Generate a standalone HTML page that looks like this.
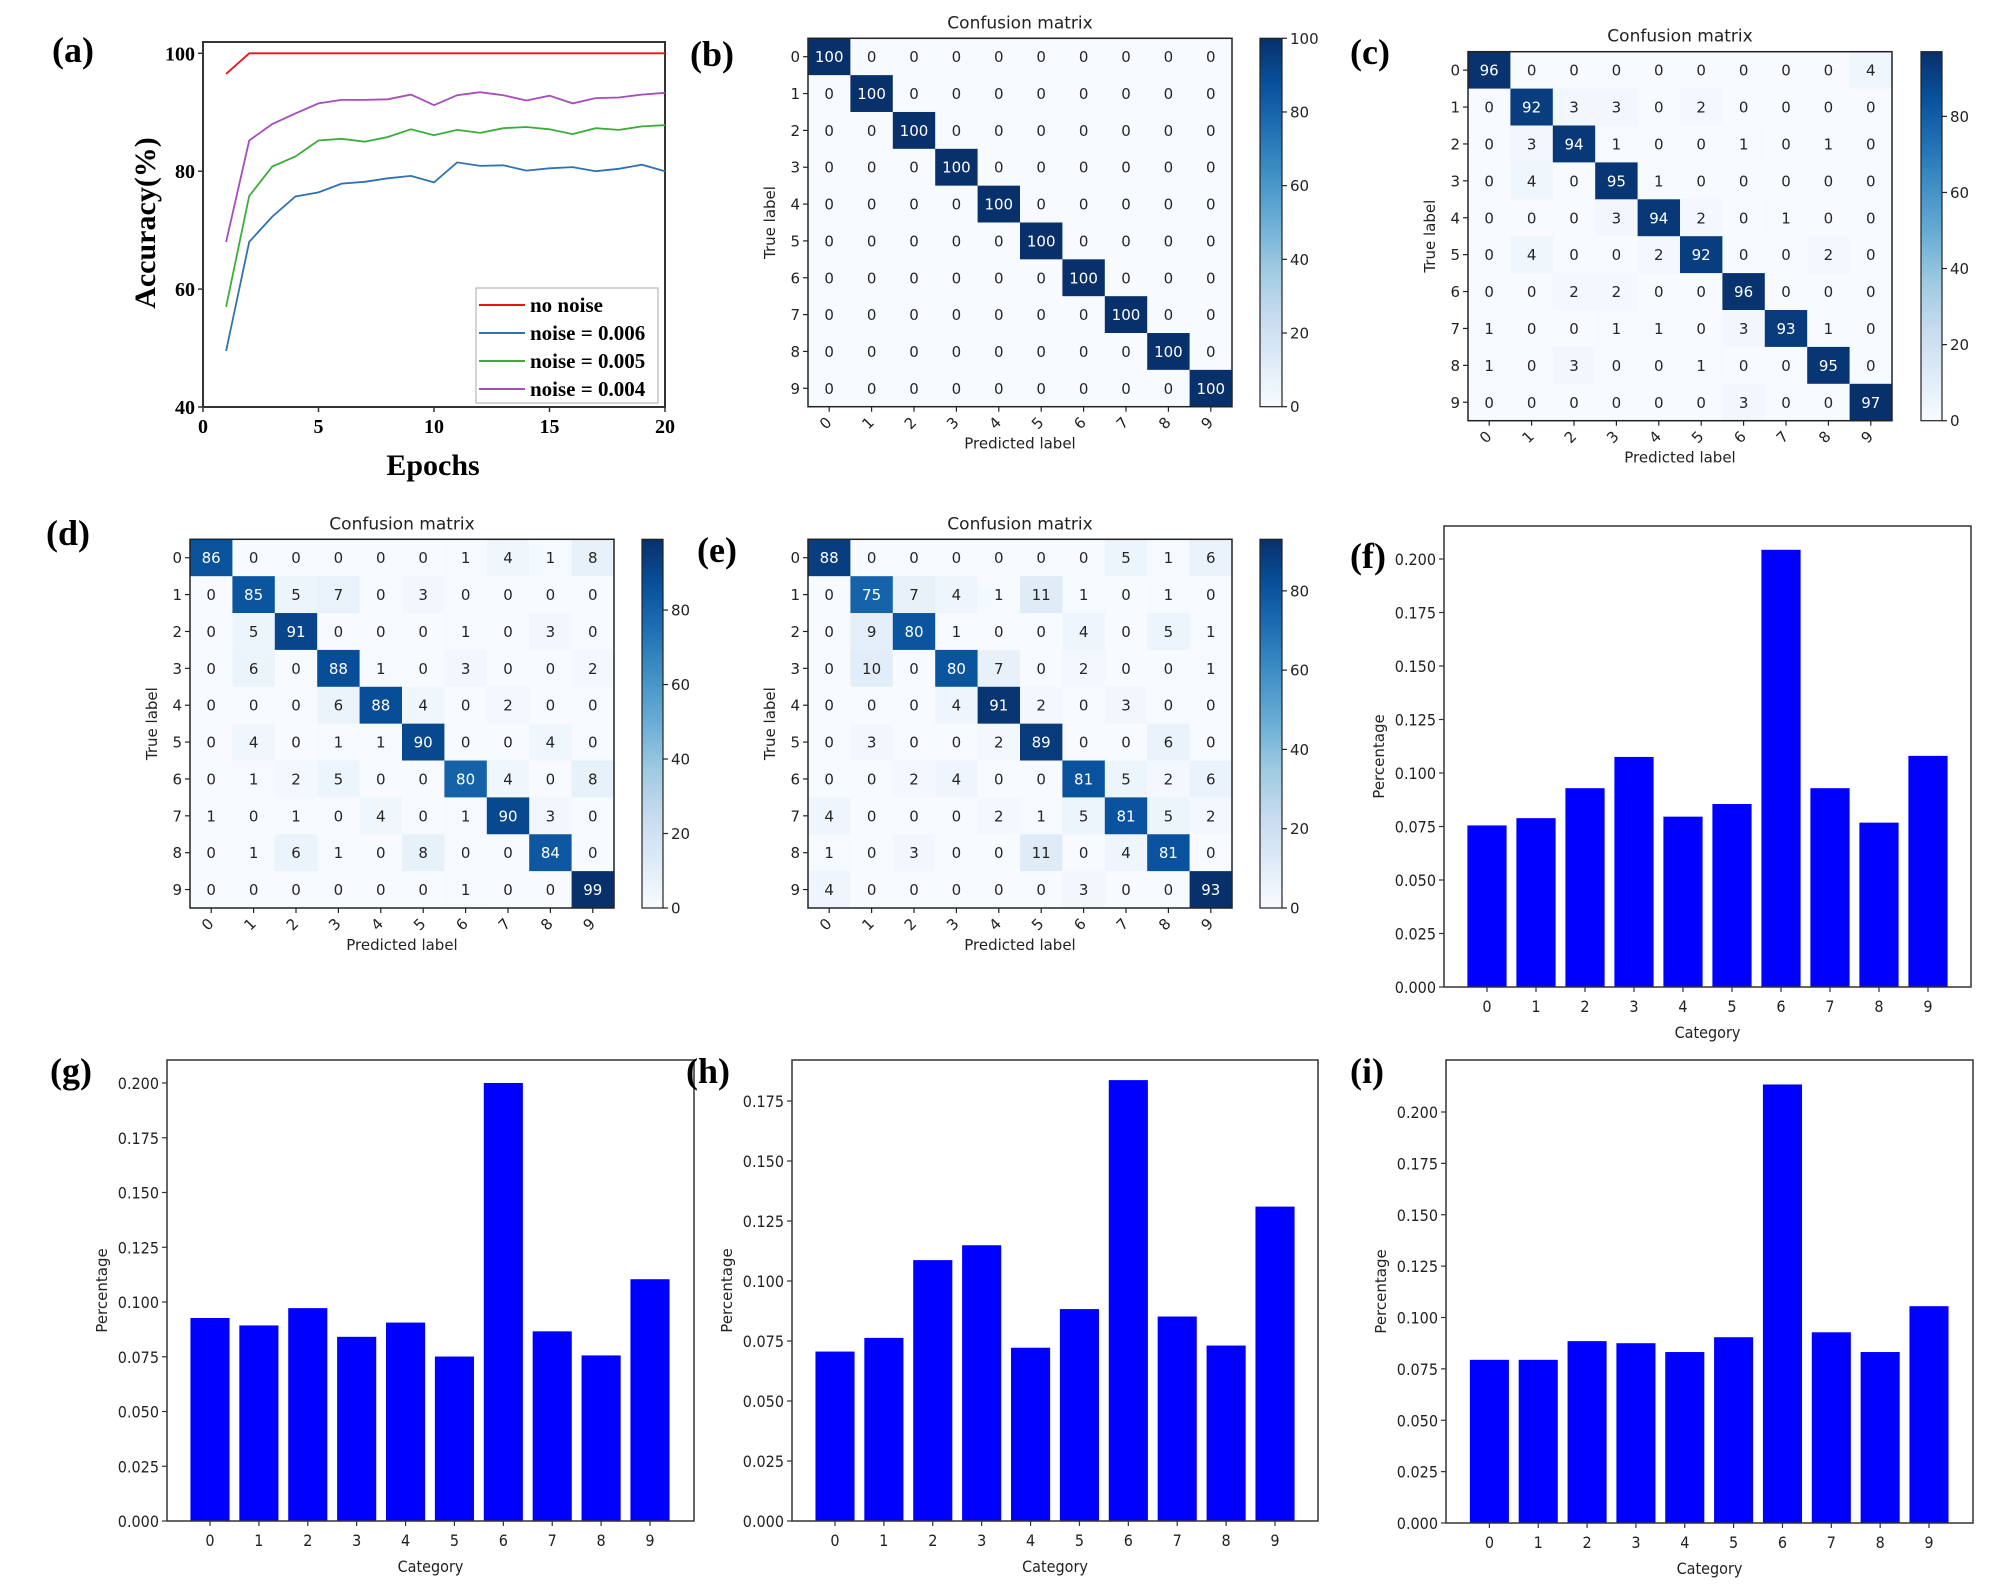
<!DOCTYPE html>
<html><head><meta charset="utf-8"><style>
html,body{margin:0;padding:0;background:#fff;}
svg{display:block;}
</style></head>
<body>
<svg id="fig" width="2000" height="1591" viewBox="0 0 2000 1591" xmlns="http://www.w3.org/2000/svg">
<defs>
<linearGradient id="blues" x1="0" y1="1" x2="0" y2="0">
<stop offset="0" stop-color="#f7fbff"/><stop offset="0.125" stop-color="#deebf7"/><stop offset="0.25" stop-color="#c6dbef"/><stop offset="0.375" stop-color="#9ecae1"/><stop offset="0.5" stop-color="#6baed6"/><stop offset="0.625" stop-color="#4292c6"/><stop offset="0.75" stop-color="#2171b5"/><stop offset="0.875" stop-color="#08519c"/><stop offset="1" stop-color="#08306b"/>
</linearGradient>
</defs>
</svg>
<script>
// ---------- data: panel (a) ----------
const epochs = [1,2,3,4,5,6,7,8,9,10,11,12,13,14,15,16,17,18,19,20];
const accNoNoise = [96.5,100,100,100,100,100,100,100,100,100,100,100,100,100,100,100,100,100,100,100];
const acc006 = [49.5,68,72.3,75.7,76.4,77.9,78.2,78.8,79.2,78.1,81.5,80.9,81,80.1,80.5,80.7,80,80.4,81.1,80];
const acc005 = [57,75.8,80.8,82.5,85.2,85.5,85,85.8,87.1,86.1,87,86.5,87.3,87.5,87.1,86.3,87.3,87,87.6,87.8];
const acc004 = [68,85.2,88,89.8,91.5,92.1,92.1,92.2,93,91.2,92.9,93.4,92.9,92,92.8,91.5,92.4,92.5,93,93.3];
const accXTicks = [0,5,10,15,20];
const accYTicks = [40,60,80,100];
const legendLabels = ["no noise","noise = 0.006","noise = 0.005","noise = 0.004"];
// ---------- data: confusion matrices ----------
const cmB = [
[100,0,0,0,0,0,0,0,0,0],[0,100,0,0,0,0,0,0,0,0],[0,0,100,0,0,0,0,0,0,0],[0,0,0,100,0,0,0,0,0,0],[0,0,0,0,100,0,0,0,0,0],
[0,0,0,0,0,100,0,0,0,0],[0,0,0,0,0,0,100,0,0,0],[0,0,0,0,0,0,0,100,0,0],[0,0,0,0,0,0,0,0,100,0],[0,0,0,0,0,0,0,0,0,100]];
const cmC = [
[96,0,0,0,0,0,0,0,0,4],[0,92,3,3,0,2,0,0,0,0],[0,3,94,1,0,0,1,0,1,0],[0,4,0,95,1,0,0,0,0,0],[0,0,0,3,94,2,0,1,0,0],
[0,4,0,0,2,92,0,0,2,0],[0,0,2,2,0,0,96,0,0,0],[1,0,0,1,1,0,3,93,1,0],[1,0,3,0,0,1,0,0,95,0],[0,0,0,0,0,0,3,0,0,97]];
const cmD = [
[86,0,0,0,0,0,1,4,1,8],[0,85,5,7,0,3,0,0,0,0],[0,5,91,0,0,0,1,0,3,0],[0,6,0,88,1,0,3,0,0,2],[0,0,0,6,88,4,0,2,0,0],
[0,4,0,1,1,90,0,0,4,0],[0,1,2,5,0,0,80,4,0,8],[1,0,1,0,4,0,1,90,3,0],[0,1,6,1,0,8,0,0,84,0],[0,0,0,0,0,0,1,0,0,99]];
const cmE = [
[88,0,0,0,0,0,0,5,1,6],[0,75,7,4,1,11,1,0,1,0],[0,9,80,1,0,0,4,0,5,1],[0,10,0,80,7,0,2,0,0,1],[0,0,0,4,91,2,0,3,0,0],
[0,3,0,0,2,89,0,0,6,0],[0,0,2,4,0,0,81,5,2,6],[4,0,0,0,2,1,5,81,5,2],[1,0,3,0,0,11,0,4,81,0],[4,0,0,0,0,0,3,0,0,93]];
const cmLabels = ["0","1","2","3","4","5","6","7","8","9"];
const cbTicksB = [0,20,40,60,80,100];
const cbTicksOther = [0,20,40,60,80];
// ---------- data: bar charts ----------
const categories = ["0","1","2","3","4","5","6","7","8","9"];
const barF = [0.0755,0.0789,0.0929,0.1075,0.0796,0.0855,0.2043,0.0929,0.0768,0.108];
const barG = [0.0927,0.0893,0.0972,0.0841,0.0906,0.0751,0.2,0.0866,0.0756,0.1104];
const barH = [0.0706,0.0763,0.1087,0.1149,0.0722,0.0883,0.1837,0.0852,0.0731,0.131];
const barI = [0.0794,0.0794,0.0885,0.0875,0.0832,0.0904,0.2134,0.0928,0.0832,0.1055];
const barTicks200 = [0,0.025,0.05,0.075,0.1,0.125,0.15,0.175,0.2];
const barTicks175 = [0,0.025,0.05,0.075,0.1,0.125,0.15,0.175];

const NS = 'http://www.w3.org/2000/svg';
const svg = document.getElementById('fig');
function el(tag, attrs, parent){ const e=document.createElementNS(NS,tag); for(const k in attrs) e.setAttribute(k,attrs[k]); (parent||svg).appendChild(e); return e; }
function tx(str, attrs, parent){ const t=el('text',attrs,parent); t.textContent=str; return t; }
const SERIF='"Liberation Serif", serif';
const DJ='"DejaVu Sans", "Liberation Sans", sans-serif';
const DJC='"DejaVu Sans Condensed", "DejaVu Sans", sans-serif';

function panelLabel(str, x, y){
  const t=tx(str,{x:x,y:y,'font-family':SERIF,'font-weight':'bold','font-size':36,fill:'#000'});
  
  
}

// ---------- panel (a) ----------
(function(){
  const L=203,R=665,T=42,B=407;
  const g=el('g',{});
  
  
  const xs=v=>L+v/20*(R-L);
  const ys=v=>B-(v-40)*(B-53.3)/60;
  const frame=el('rect',{x:L,y:T,width:R-L,height:B-T,fill:'none',stroke:'#333',"stroke-width":2},g);
  
  
  accXTicks.forEach(v=>{
    const tk=el('line',{x1:xs(v),x2:xs(v),y1:B,y2:B+5,stroke:'#333','stroke-width':1.5},g);
    
    
    const lb=tx(String(v),{x:xs(v),y:B+26,'text-anchor':'middle','font-family':SERIF,'font-weight':'bold','font-size':20},g);
    
    
  });
  accYTicks.forEach(v=>{
    const tk=el('line',{x1:L-5,x2:L,y1:ys(v),y2:ys(v),stroke:'#333','stroke-width':1.5},g);
    
    
    const lb=tx(String(v),{x:L-8,y:ys(v)+7,'text-anchor':'end','font-family':SERIF,'font-weight':'bold','font-size':20},g);
    
    
  });
  const xt=tx('Epochs',{x:433,y:475,'text-anchor':'middle','font-family':SERIF,'font-weight':'bold','font-size':30},g);
  
  
  const yt=tx('Accuracy(%)',{x:0,y:0,transform:'translate(155,223) rotate(-90)','text-anchor':'middle','font-family':SERIF,'font-weight':'bold','font-size':30},g);
  
  
  const series=[accNoNoise,acc006,acc005,acc004];
  const colors=['#e8141c','#2f72b0','#3aae3a','#a64cbc'];
  series.forEach((s,i)=>{
    const pts=s.map((v,j)=>xs(epochs[j]).toFixed(1)+','+ys(v).toFixed(1)).join(' ');
    const pl=el('polyline',{points:pts,fill:'none',stroke:colors[i],'stroke-width':1.8},g);
    
    
  });
  const lg=el('rect',{x:476,y:288,width:182,height:115,fill:'#fff',stroke:'#aaa','stroke-width':1},g);
  
  
  legendLabels.forEach((lab,i)=>{
    const yy=305+i*28;
    const ln=el('line',{x1:479,x2:525,y1:yy,y2:yy,stroke:colors[i],'stroke-width':2},g);
    
    
    const lt=tx(lab,{x:530,y:yy+7,'font-family':SERIF,'font-weight':'bold','font-size':21},g);
    
    
  });
})();
panelLabel('(a)',52,62);

// ---------- confusion matrices ----------
const bluesStops=[[247,251,255],[222,235,247],[198,219,239],[158,202,225],[107,174,214],[66,146,198],[33,113,181],[8,81,156],[8,48,107]];
function blues(t){
  t=Math.max(0,Math.min(1,t));
  const p=t*8, i=Math.min(7,Math.floor(p)), f=p-i;
  const a=bluesStops[i], b=bluesStops[i+1];
  return 'rgb('+a.map((c,k)=>Math.round(c+(b[k]-c)*f)).join(',')+')';
}
function drawCM(name, M, vmax, cbTicks, L, R, T, B, cbL, cbR){
  const g=el('g',{});
  
  
  const cw=(R-L)/10, ch=(B-T)/10;
  for(let r=0;r<10;r++){ for(let c=0;c<10;c++){
    const v=M[r][c];
    const cell=el('rect',{x:L+c*cw,y:T+r*ch,width:cw+0.5,height:ch+0.5,fill:blues(v/vmax)},g);
    
    
    const t=tx(String(v),{x:L+(c+0.5)*cw,y:T+(r+0.5)*ch+5.5,'text-anchor':'middle','font-family':DJ,'font-size':15,fill:(v>vmax/2?'#fff':'#262626')},g);
    
    
  }}
  const fr=el('rect',{x:L,y:T,width:R-L,height:B-T,fill:'none',stroke:'#222','stroke-width':1.5},g);
  
  
  cmLabels.forEach((lab,i)=>{
    const yy=T+(i+0.5)*ch, xx=L+(i+0.5)*cw;
    const t1=el('line',{x1:L-5,x2:L,y1:yy,y2:yy,stroke:'#222','stroke-width':1.2},g);
    
    
    const l1=tx(lab,{x:L-8,y:yy+5.5,'text-anchor':'end','font-family':DJ,'font-size':15,fill:'#222'},g);
    
    
    const t2=el('line',{x1:xx,x2:xx,y1:B,y2:B+5,stroke:'#222','stroke-width':1.2},g);
    
    
    const l2=tx(lab,{x:0,y:0,transform:'translate('+xx+','+(B+20)+') rotate(-45)','text-anchor':'middle','font-family':DJ,'font-size':15,fill:'#222'},g);
    
    
  });
  const tt=tx('Confusion matrix',{x:(L+R)/2,y:T-10,'text-anchor':'middle','font-family':DJ,'font-size':17,fill:'#222'},g);
  
  
  const xl=tx('Predicted label',{x:(L+R)/2,y:B+42,'text-anchor':'middle','font-family':DJ,'font-size':15,fill:'#222'},g);
  
  
  const yl=tx('True label',{x:0,y:0,transform:'translate('+(L-33)+','+((T+B)/2)+') rotate(-90)','text-anchor':'middle','font-family':DJ,'font-size':15,fill:'#222'},g);
  
  
  const cb=el('rect',{x:cbL,y:T,width:cbR-cbL,height:B-T,fill:'url(#blues)',stroke:'#222','stroke-width':1.2},g);
  
  
  cbTicks.forEach(v=>{
    const yy=B-v/vmax*(B-T);
    const tk=el('line',{x1:cbR,x2:cbR+5,y1:yy,y2:yy,stroke:'#222','stroke-width':1.2},g);
    
    
    const lb=tx(String(v),{x:cbR+8,y:yy+5.5,'font-family':DJ,'font-size':15,fill:'#222'},g);
    
    
  });
}
drawCM('confusion-matrix-b',cmB,100,cbTicksB,808,1232,38.3,406.7,1260,1282);
drawCM('confusion-matrix-c',cmC,97,cbTicksOther,1468,1892,51.7,420.7,1921,1942);
drawCM('confusion-matrix-d',cmD,99,cbTicksOther,190,614,539.3,908,642,663);
drawCM('confusion-matrix-e',cmE,93,cbTicksOther,808,1232,539.3,908,1260,1282);
panelLabel('(b)',690,66);
panelLabel('(c)',1350,64);
panelLabel('(d)',46,545);
panelLabel('(e)',697,562);

// ---------- bar charts ----------
function drawBar(name, vals, ticks, L, R, T, B, x0, x9, y0v, yRefV, yRefPx){
  const g=el('g',{});
  
  
  const ppu=(B-yRefPx)/(yRefV-y0v);
  const ys=v=>B-(v-y0v)*ppu;
  const step=(x9-x0)/9;
  const xs=i=>x0+i*step;
  vals.forEach((v,i)=>{
    const w=step*0.8;
    const b=el('rect',{x:xs(i)-w/2,y:ys(v),width:w,height:B-ys(v),fill:'#0000ff'},g);
    
    
  });
  const fr=el('rect',{x:L,y:T,width:R-L,height:B-T,fill:'none',stroke:'#333','stroke-width':1.5},g);
  
  
  ticks.forEach(v=>{
    const yy=ys(v);
    const tk=el('line',{x1:L-5,x2:L,y1:yy,y2:yy,stroke:'#333','stroke-width':1.2},g);
    
    
    const lb=tx(v.toFixed(3),{x:L-8,y:yy+6,'text-anchor':'end','font-family':DJC,'font-size':16,fill:'#222'},g);
    
    
  });
  categories.forEach((c,i)=>{
    const tk=el('line',{x1:xs(i),x2:xs(i),y1:B,y2:B+5,stroke:'#333','stroke-width':1.2},g);
    
    
    const lb=tx(c,{x:xs(i),y:B+25,'text-anchor':'middle','font-family':DJC,'font-size':16,fill:'#222'},g);
    
    
  });
  const xl=tx('Category',{x:(L+R)/2,y:B+51,'text-anchor':'middle','font-family':DJC,'font-size':16,fill:'#222'},g);
  
  
  const yl=tx('Percentage',{x:0,y:0,transform:'translate('+(L-60)+','+((T+B)/2)+') rotate(-90)','text-anchor':'middle','font-family':DJ,'font-size':15,fill:'#222'},g);
  
  
}
drawBar('bar-chart-f',barF,barTicks200,1444,1971,526,987,1487,1928,0,0.2,559);
drawBar('bar-chart-g',barG,barTicks200,167,694,1060,1521,210,650,0,0.2,1083);
drawBar('bar-chart-h',barH,barTicks175,792,1318,1060,1521,835,1275,0,0.175,1101);
drawBar('bar-chart-i',barI,barTicks200,1446,1973,1060,1523,1489.4,1929,0,0.2,1112);
panelLabel('(f)',1350,568);
panelLabel('(g)',50,1083);
panelLabel('(h)',686,1083);
panelLabel('(i)',1350,1083);
</script>
</body></html>
